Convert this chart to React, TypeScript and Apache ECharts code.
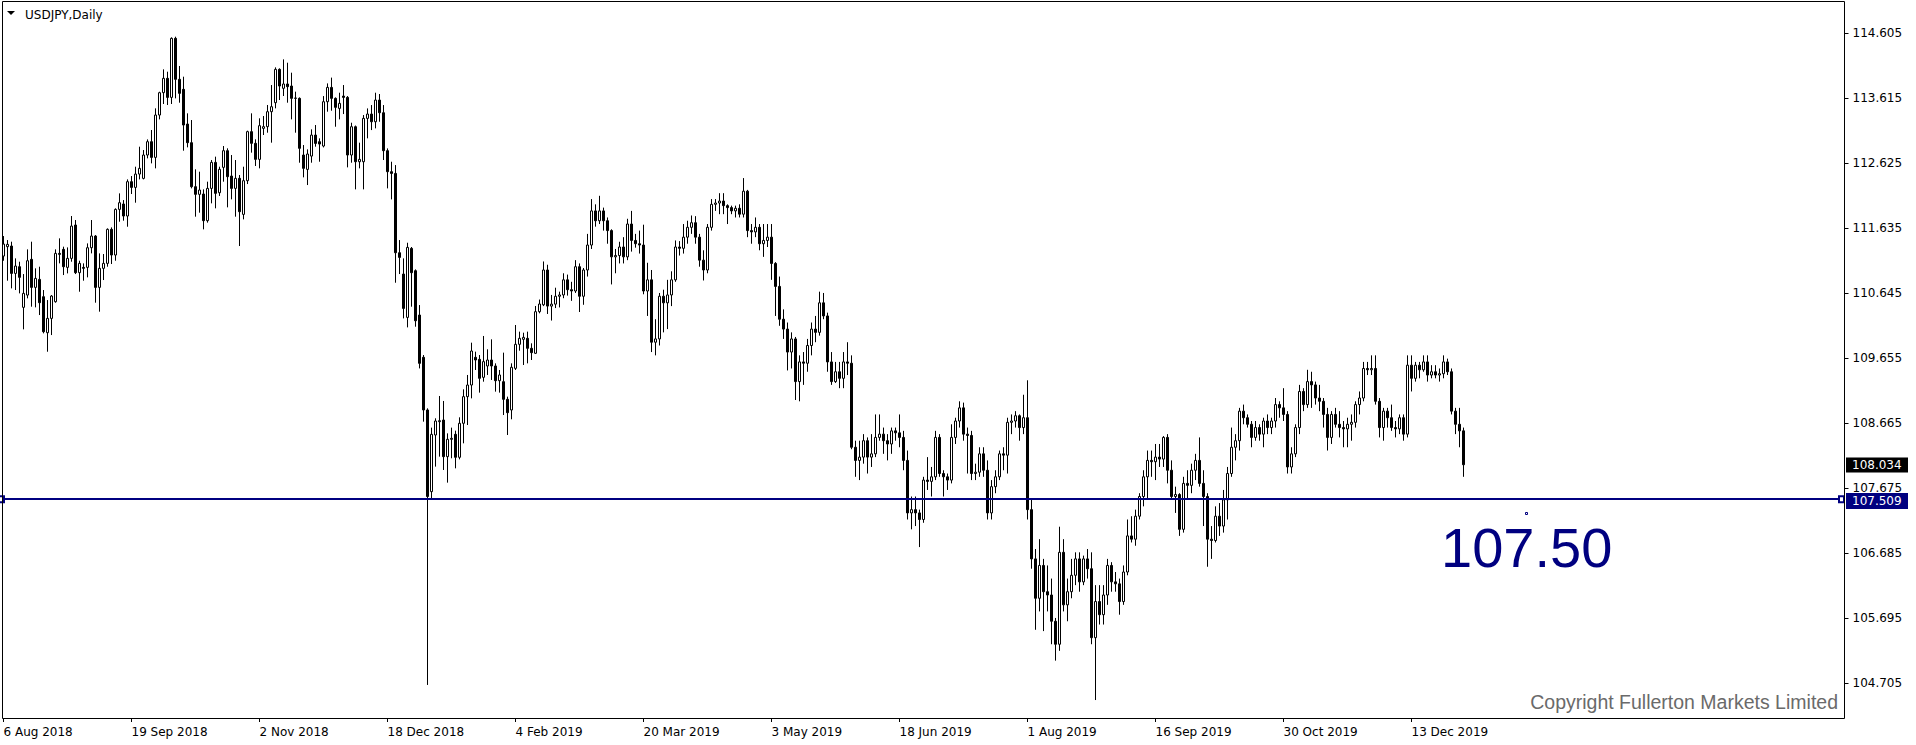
import React, { useEffect, useRef } from "react";
import * as echarts from "echarts";

const tickLabels = [
  "6 Aug 2018", "19 Sep 2018", "2 Nov 2018", "18 Dec 2018", "4 Feb 2019", "20 Mar 2019",
  "3 May 2019", "18 Jun 2019", "1 Aug 2019", "16 Sep 2019", "30 Oct 2019", "13 Dec 2019",
];
const barsPerLabel = 32;
const slotCount = 460;
const priceTicks = [114.605, 113.615, 112.625, 111.635, 110.645, 109.655, 108.665, 107.675, 106.685, 105.695, 104.705];

const opens = [
  111.212, 111.355, 111.365, 110.948, 111.050, 110.431, 110.618, 111.162, 110.735, 110.857,
  110.593, 110.045, 110.263, 110.517, 111.253, 111.314, 111.040, 111.177, 111.685, 110.959,
  111.040, 111.040, 111.339, 111.517, 110.735, 111.025, 111.101, 111.619, 111.228, 111.923,
  112.005, 111.822, 112.345, 112.258, 112.461, 112.395, 112.751, 112.954, 112.715, 113.360,
  113.701, 113.919, 113.629, 114.528, 113.904, 113.751, 113.223, 112.939, 112.269, 112.152,
  112.157, 111.751, 112.243, 112.639, 112.177, 112.563, 112.817, 112.431, 112.243, 112.396,
  111.847, 112.360, 113.107, 112.929, 112.685, 113.157, 113.183, 113.411, 113.548, 114.056,
  113.767, 113.833, 113.802, 113.614, 113.614, 112.751, 112.532, 112.735, 113.055, 112.954,
  112.888, 113.563, 113.781, 113.614, 113.461, 113.649, 113.629, 112.751, 113.182, 112.649,
  112.649, 113.309, 113.375, 113.258, 113.588, 113.395, 112.817, 112.497, 112.471, 111.263,
  110.938, 110.278, 111.329, 110.989, 110.314, 109.670, 108.868, 107.624, 108.487, 108.690,
  108.715, 108.157, 108.421, 108.497, 108.147, 108.665, 109.071, 109.248, 109.670, 109.639,
  109.365, 109.538, 109.629, 109.538, 109.314, 109.299, 109.030, 108.868, 109.502, 109.868,
  109.944, 109.959, 109.807, 109.731, 110.365,
  110.47, 111.00, 110.45, 110.48, 110.60, 110.62, 110.85, 110.70, 110.68, 111.05,
  110.60, 111.00, 111.38, 111.90, 111.75, 111.90, 111.75, 111.60, 111.20, 111.22,
  111.35, 111.20, 111.70, 111.45, 111.40, 111.38, 110.68, 110.85, 109.90, 109.95,
  110.60, 110.50, 110.62, 110.85, 111.35, 111.33, 111.50, 111.65, 111.72, 111.50,
  111.15, 111.00, 111.65, 112.00, 112.02, 112.05, 111.98, 111.95, 111.90, 111.94,
  111.85, 112.20, 111.60, 111.58, 111.65, 111.40, 111.45, 111.50, 111.10, 110.75,
  110.25, 110.10, 109.75, 109.95, 109.30, 109.60, 109.58, 109.85, 110.10, 110.05,
  110.50, 110.30, 109.60, 109.30, 109.45, 109.35, 109.60, 109.58, 108.30, 108.10,
  108.15, 108.40, 108.15, 108.20, 108.45, 108.50, 108.40, 108.35, 108.55, 108.52,
  108.45, 108.10, 107.30, 107.35, 107.30, 107.20, 107.80, 107.78, 107.85, 108.45,
  107.90, 107.85, 107.80, 108.45, 108.70, 108.90, 108.50, 108.48, 107.90, 107.92,
  108.20, 107.95, 107.30, 107.70, 107.85, 108.20, 108.18, 108.68, 108.70, 108.78,
  108.60, 108.75, 107.35, 106.60, 106.00, 106.50, 106.10, 106.05, 105.65, 105.30,
  106.70, 105.90, 106.10, 106.35, 106.60, 106.25, 106.60, 106.45, 105.40, 105.95,
  105.75, 106.05, 106.50, 106.25, 106.22, 105.95, 106.40, 106.95, 106.90, 107.25,
  107.55, 107.85, 108.10, 108.08, 108.15, 108.12, 108.45, 107.95, 107.55, 107.58,
  107.05, 107.75, 107.72, 107.95, 108.10, 107.75, 107.55, 106.90, 106.88, 107.25,
  107.10, 107.50, 107.90, 108.30, 108.40, 108.85, 108.75, 108.65, 108.45, 108.60,
  108.50, 108.70, 108.60, 108.70, 108.95, 108.90, 108.80, 108.00, 108.20, 108.60,
  109.15, 108.95, 109.30, 109.25, 109.05, 109.00, 108.80, 108.45, 108.80, 108.65,
  108.60, 108.58, 108.65, 108.68, 108.95, 109.05, 109.50, 109.48, 109.50, 109.00,
  108.60, 108.85, 108.75, 108.60, 108.58, 108.75, 108.50, 109.55, 109.35, 109.55,
  109.48, 109.60, 109.40, 109.45, 109.40, 109.42, 109.60, 109.45, 108.85, 108.65,
  108.55,
];
const closes = [
  111.395, 111.390, 110.948, 111.060, 110.888, 110.644, 111.141, 110.735, 110.872, 110.502,
  110.060, 110.263, 110.603, 111.253, 111.238, 111.050, 111.177, 111.669, 110.959, 111.101,
  111.025, 111.339, 111.517, 110.735, 111.025, 111.101, 111.619, 111.228, 111.923, 112.025,
  111.822, 112.345, 112.258, 112.461, 112.548, 112.751, 112.954, 112.715, 113.360, 113.700,
  113.919, 113.629, 114.528, 113.904, 113.690, 113.208, 112.939, 112.269, 112.152, 112.218,
  111.751, 112.243, 112.639, 112.167, 112.533, 112.817, 112.421, 112.243, 112.396, 111.888,
  112.360, 113.107, 112.929, 112.685, 113.198, 113.183, 113.411, 113.487, 114.056, 113.802,
  113.833, 113.792, 113.614, 113.620, 112.853, 112.548, 112.766, 113.055, 112.928, 112.918,
  113.563, 113.781, 113.614, 113.477, 113.538, 113.629, 112.751, 113.182, 112.649, 112.685,
  113.309, 113.375, 113.258, 113.588, 113.395, 112.817, 112.497, 112.471, 111.263, 111.192,
  110.415, 111.344, 110.959, 110.227, 109.578, 108.868, 107.550, 108.497, 108.700, 108.705,
  108.157, 108.421, 108.436, 108.147, 108.665, 109.071, 109.248, 109.766, 109.629, 109.350,
  109.604, 109.629, 109.538, 109.314, 109.401, 109.030, 108.827, 109.518, 109.868, 109.959,
  109.974, 109.807, 109.741, 110.365, 110.482,
  111.00, 110.45, 110.48, 110.60, 110.62, 110.85, 110.70, 110.68, 111.05, 110.60,
  111.00, 111.38, 111.90, 111.75, 111.90, 111.75, 111.60, 111.20, 111.22, 111.35,
  111.20, 111.70, 111.45, 111.40, 111.38, 110.68, 110.85, 109.90, 109.95, 110.60,
  110.50, 110.62, 110.85, 111.35, 111.33, 111.50, 111.65, 111.72, 111.50, 111.15,
  111.00, 111.65, 112.00, 112.02, 112.05, 111.98, 111.95, 111.90, 111.94, 111.85,
  112.20, 111.60, 111.58, 111.65, 111.40, 111.45, 111.50, 111.10, 110.75, 110.25,
  110.10, 109.75, 109.95, 109.30, 109.60, 109.58, 109.85, 110.10, 110.05, 110.50,
  110.30, 109.60, 109.30, 109.45, 109.35, 109.60, 109.58, 108.30, 108.10, 108.15,
  108.40, 108.15, 108.20, 108.45, 108.50, 108.40, 108.35, 108.55, 108.52, 108.45,
  108.10, 107.30, 107.35, 107.30, 107.20, 107.80, 107.78, 107.85, 108.45, 107.90,
  107.85, 107.80, 108.45, 108.70, 108.90, 108.50, 108.48, 107.90, 107.92, 108.20,
  107.95, 107.30, 107.70, 107.85, 108.20, 108.18, 108.68, 108.70, 108.78, 108.60,
  108.75, 107.35, 106.60, 106.00, 106.50, 106.10, 106.05, 105.65, 105.30, 106.70,
  105.90, 106.10, 106.35, 106.60, 106.25, 106.60, 106.45, 105.40, 105.95, 105.75,
  106.05, 106.50, 106.25, 106.22, 105.95, 106.40, 106.95, 106.90, 107.25, 107.55,
  107.85, 108.10, 108.08, 108.15, 108.12, 108.45, 107.95, 107.55, 107.58, 107.05,
  107.75, 107.72, 107.95, 108.10, 107.75, 107.55, 106.90, 106.88, 107.25, 107.10,
  107.50, 107.90, 108.30, 108.40, 108.85, 108.75, 108.65, 108.45, 108.60, 108.50,
  108.70, 108.60, 108.70, 108.95, 108.90, 108.80, 108.00, 108.20, 108.60, 109.15,
  108.95, 109.30, 109.25, 109.05, 109.00, 108.80, 108.45, 108.80, 108.65, 108.60,
  108.58, 108.65, 108.68, 108.95, 109.05, 109.50, 109.48, 109.50, 109.00, 108.60,
  108.85, 108.75, 108.60, 108.58, 108.75, 108.50, 109.55, 109.35, 109.55, 109.48,
  109.60, 109.40, 109.45, 109.40, 109.42, 109.60, 109.45, 108.85, 108.65, 108.55,
  108.034,
];
const lows = [
  111.141, 110.837, 110.720, 110.695, 110.644, 110.096, 110.568, 110.441, 110.431, 110.314,
  110.035, 109.755, 110.009, 110.502, 111.101, 110.923, 110.948, 111.126, 110.938, 110.669,
  110.837, 110.888, 111.253, 110.502, 110.365, 110.847, 111.050, 111.091, 111.141, 111.735,
  111.751, 111.659, 112.157, 112.025, 112.380, 112.380, 112.700, 112.624, 112.548, 113.294,
  113.528, 113.513, 113.528, 113.614, 113.548, 112.817, 112.868, 112.243, 111.812, 111.873,
  111.619, 111.721, 112.015, 111.939, 112.127, 112.345, 111.954, 112.076, 111.812, 111.365,
  111.771, 112.309, 112.787, 112.584, 112.548, 113.056, 113.091, 112.939, 113.462, 113.589,
  113.650, 113.548, 113.294, 113.091, 112.634, 112.411, 112.294, 112.634, 112.878, 112.649,
  112.867, 113.411, 113.426, 113.182, 113.294, 113.375, 112.563, 112.634, 112.228, 112.548,
  112.228, 113.005, 113.131, 113.157, 113.258, 112.675, 112.243, 112.075, 110.806, 110.938,
  110.263, 110.126, 110.441, 110.136, 109.501, 108.690, 104.680, 107.507, 108.005, 108.157,
  107.954, 107.761, 108.132, 107.979, 108.116, 108.360, 108.639, 109.045, 109.477, 109.132,
  109.299, 109.401, 109.325, 109.147, 109.132, 108.791, 108.487, 108.726, 109.477, 109.771,
  109.553, 109.578, 109.629, 109.721, 110.340,
  110.45, 110.33, 110.23, 110.42, 110.43, 110.57, 110.61, 110.53, 110.65, 110.36,
  110.47, 110.90, 111.32, 111.66, 111.70, 111.60, 111.40, 110.78, 110.95, 111.10,
  111.10, 111.15, 111.28, 111.34, 111.25, 110.63, 110.30, 109.75, 109.70, 109.85,
  110.05, 110.10, 110.45, 110.82, 111.22, 111.25, 111.40, 111.55, 111.40, 111.05,
  110.84, 110.95, 111.60, 111.90, 111.85, 111.85, 111.70, 111.85, 111.80, 111.80,
  111.80, 111.50, 111.40, 111.50, 111.30, 111.20, 111.35, 110.85, 110.30, 110.15,
  109.95, 109.47, 109.50, 109.02, 109.00, 109.25, 109.45, 109.70, 109.90, 110.00,
  110.25, 109.45, 109.25, 109.28, 109.20, 109.20, 109.40, 108.27, 107.85, 107.80,
  108.05, 107.90, 108.00, 108.15, 108.40, 108.20, 108.10, 108.20, 108.40, 108.30,
  107.95, 107.20, 107.05, 107.10, 106.78, 107.15, 107.65, 107.55, 107.80, 107.85,
  107.55, 107.65, 107.75, 108.35, 108.60, 108.40, 107.90, 107.80, 107.80, 107.85,
  107.85, 107.20, 107.20, 107.60, 107.80, 107.95, 107.90, 108.50, 108.60, 108.40,
  108.50, 107.20, 106.45, 105.52, 105.80, 105.50, 105.80, 105.30, 105.05, 105.20,
  105.80, 105.65, 106.00, 106.20, 106.10, 106.20, 106.30, 105.30, 104.45, 105.60,
  105.60, 105.90, 106.10, 106.10, 105.75, 105.90, 106.35, 106.85, 106.80, 107.20,
  107.40, 107.50, 107.85, 107.80, 108.00, 108.00, 107.75, 107.50, 107.30, 106.95,
  107.00, 107.50, 107.60, 107.80, 107.70, 107.10, 106.48, 106.60, 106.85, 106.95,
  107.00, 107.20, 107.85, 108.10, 108.25, 108.65, 108.60, 108.30, 108.40, 108.40,
  108.30, 108.50, 108.50, 108.60, 108.75, 108.70, 107.90, 107.90, 108.15, 108.50,
  108.85, 108.90, 108.90, 108.95, 108.85, 108.60, 108.25, 108.35, 108.60, 108.45,
  108.30, 108.30, 108.40, 108.60, 108.80, 109.00, 109.40, 109.40, 108.95, 108.45,
  108.40, 108.60, 108.55, 108.45, 108.50, 108.40, 108.45, 109.15, 109.30, 109.35,
  109.45, 109.30, 109.35, 109.35, 109.30, 109.35, 109.40, 108.80, 108.50, 108.30,
  107.85,
];
const highs = [
  111.517, 111.456, 111.431, 111.177, 111.126, 110.938, 111.314, 111.431, 111.025, 111.050,
  110.695, 110.542, 110.618, 111.314, 111.482, 111.355, 111.344, 111.822, 111.761, 111.141,
  111.101, 111.405, 111.761, 111.532, 111.253, 111.243, 111.634, 111.649, 111.939, 112.167,
  112.065, 112.380, 112.431, 112.573, 112.878, 112.827, 112.989, 113.132, 113.462, 113.715,
  114.056, 114.020, 114.543, 114.553, 114.107, 113.944, 113.386, 113.284, 112.533, 112.497,
  112.228, 112.345, 112.675, 112.726, 112.573, 112.888, 112.853, 112.751, 112.675, 112.447,
  112.573, 113.122, 113.386, 112.990, 113.310, 113.345, 113.513, 113.817, 114.086, 114.071,
  114.208, 114.157, 114.005, 113.716, 113.629, 112.903, 112.837, 113.142, 113.208, 113.005,
  113.649, 113.842, 113.930, 113.629, 113.700, 113.817, 113.649, 113.243, 113.200, 112.939,
  113.360, 113.461, 113.512, 113.700, 113.680, 113.512, 112.852, 112.649, 112.598, 111.456,
  111.177, 111.415, 111.350, 111.009, 110.466, 109.705, 108.893, 108.599, 108.741, 109.081,
  109.005, 108.512, 108.599, 108.553, 108.756, 109.182, 109.401, 109.893, 109.756, 109.705,
  109.995, 109.792, 109.944, 109.578, 109.477, 109.741, 109.071, 109.578, 110.162, 110.061,
  110.045, 110.061, 109.883, 110.452, 110.550,
  111.13, 111.08, 110.62, 110.73, 110.67, 110.95, 110.93, 110.82, 111.15, 111.10,
  111.03, 111.55, 112.08, 112.00, 112.13, 111.95, 111.80, 111.62, 111.32, 111.43,
  111.50, 111.78, 111.90, 111.55, 111.60, 111.69, 111.11, 111.00, 110.25, 110.65,
  110.70, 110.85, 110.98, 111.45, 111.44, 111.70, 111.75, 111.83, 111.82, 111.55,
  111.30, 111.70, 112.08, 112.08, 112.17, 112.17, 112.00, 111.98, 111.98, 112.00,
  112.40, 112.22, 111.70, 111.80, 111.70, 111.70, 111.70, 111.70, 111.12, 110.90,
  110.40, 110.20, 110.05, 109.98, 109.70, 109.75, 109.95, 110.20, 110.30, 110.67,
  110.65, 110.35, 109.75, 109.60, 109.60, 109.75, 109.90, 109.70, 108.40, 108.40,
  108.50, 108.45, 108.50, 108.80, 108.80, 108.60, 108.50, 108.60, 108.60, 108.80,
  108.55, 108.25, 107.55, 107.55, 107.35, 107.85, 108.15, 108.00, 108.55, 108.50,
  107.95, 107.90, 108.65, 108.75, 109.00, 108.98, 108.60, 108.55, 108.05, 108.30,
  108.30, 108.10, 107.80, 107.95, 108.25, 108.30, 108.75, 108.80, 108.85, 108.80,
  109.10, 109.32, 107.50, 106.75, 106.90, 106.60, 106.50, 106.30, 105.70, 107.09,
  106.90, 106.30, 106.60, 106.70, 106.70, 106.65, 106.75, 106.70, 106.20, 106.20,
  106.20, 106.60, 106.55, 106.40, 106.30, 106.50, 107.20, 107.25, 107.35, 107.60,
  107.95, 108.25, 108.25, 108.35, 108.35, 108.47, 108.50, 108.10, 107.70, 107.60,
  107.85, 107.95, 108.05, 108.20, 108.45, 107.95, 107.60, 107.10, 107.40, 107.45,
  107.65, 108.00, 108.60, 108.50, 108.90, 108.95, 108.80, 108.70, 108.70, 108.65,
  108.75, 108.80, 108.75, 109.05, 109.00, 109.20, 108.85, 108.30, 108.65, 109.25,
  109.20, 109.48, 109.45, 109.30, 109.25, 109.05, 108.90, 108.85, 108.90, 108.85,
  108.70, 108.75, 108.80, 109.00, 109.15, 109.60, 109.60, 109.70, 109.70, 109.05,
  108.90, 108.90, 108.95, 108.70, 108.80, 108.80, 109.70, 109.70, 109.60, 109.60,
  109.70, 109.70, 109.55, 109.55, 109.50, 109.70, 109.65, 109.50, 108.90, 108.90,
  108.60,
];

const lastPrice = 108.034;
const levelPrice = 107.509;
const levelText = "107.50";
const symbolTitle = "USDJPY,Daily";
const copyrightText = "Copyright Fullerton Markets Limited";

const FONT = "'DejaVu Sans', Verdana, sans-serif";
const NAVY = "#000080";

export default function App() {
  const ref = useRef<HTMLDivElement>(null);
  useEffect(() => {
    document.body.style.margin = "0";
    const el = ref.current as HTMLDivElement;
    const chart = echarts.init(el, null, { renderer: "svg" });
    const categories = Array.from({ length: slotCount }, (_, i) => String(i));
    const candles = opens.map((o, i) => [o, closes[i], lows[i], highs[i]]);
    const showTick = (i: number) => i % barsPerLabel === 0 && i / barsPerLabel < tickLabels.length;

    chart.setOption({
      animation: false,
      backgroundColor: "#ffffff",
      grid: { left: 1.5, right: 74.5, top: 2, bottom: 27, containLabel: false, outerBoundsMode: "none" },
      xAxis: {
        type: "category",
        data: categories,
        boundaryGap: true,
        axisLine: { show: false },
        axisTick: {
          show: true,
          alignWithLabel: true,
          interval: (i: number) => showTick(i),
          length: 4,
          lineStyle: { color: "#000", width: 1 },
        },
        axisLabel: {
          show: true,
          interval: (i: number) => showTick(i),
          formatter: (_v: string, i: number) => tickLabels[i / barsPerLabel] ?? "",
          align: "left",
          margin: 8,
          fontFamily: FONT,
          fontSize: 12,
          color: "#000",
        },
        splitLine: { show: false },
      },
      yAxis: {
        type: "value",
        position: "right",
        min: 104.1765,
        max: 115.0817,
        offset: 3,
        scale: true,
        axisLine: { show: false },
        axisTick: { show: true, length: 4, customValues: priceTicks, lineStyle: { color: "#000", width: 1 } },
        axisLabel: {
          show: true,
          customValues: priceTicks,
          formatter: (v: number) => v.toFixed(3),
          margin: 8,
          fontFamily: FONT,
          fontSize: 12,
          color: "#000",
        },
        splitLine: { show: false },
      },
      series: [
        {
          type: "candlestick",
          data: candles,
          barWidth: 2,
          itemStyle: {
            color: "#ffffff",
            color0: "#000000",
            borderColor: "#000000",
            borderColor0: "#000000",
            borderColorDoji: "#000000",
            borderWidth: 1,
          },
          emphasis: { disabled: true },
          markLine: {
            silent: true,
            symbol: ["emptyRect", "emptyRect"],
            symbolSize: [6, 5],
            label: { show: false },
            lineStyle: { color: NAVY, width: 2, type: "solid" },
            emphasis: { disabled: true },
            data: [{ yAxis: levelPrice }],
          },
        },
      ],
    });

    const yLast = chart.convertToPixel({ yAxisIndex: 0 }, lastPrice) as number;
    const yLevel = chart.convertToPixel({ yAxisIndex: 0 }, levelPrice) as number;

    const txt = (text: string, x: number, y: number, size: number, fill: string, family: string, align = "left") => ({
      type: "text",
      z: 100,
      style: {
        text, x, y, fill,
        fontSize: size, fontFamily: family,
        align, verticalAlign: "middle",
        textAlign: align, textVerticalAlign: "middle",
      },
    });

    chart.setOption({
      graphic: [
        {
          type: "rect", z: 100,
          shape: { x: 2.5, y: 1.5, width: 1842, height: 717 },
          style: { fill: "none", stroke: "#000", lineWidth: 1 },
        },
        {
          type: "polygon", z: 100,
          shape: { points: [[7, 11], [15, 11], [11, 15]] },
          style: { fill: "#000" },
        },
        txt(symbolTitle, 25, 15, 12, "#000", FONT),
        {
          type: "rect", z: 100,
          shape: { x: 1846, y: Math.round(yLast) - 7.5, width: 62, height: 15 },
          style: { fill: "#000" },
        },
        txt(lastPrice.toFixed(3), 1852, Math.round(yLast), 12, "#fff", FONT),
        {
          type: "rect", z: 100,
          shape: { x: 1846, y: Math.round(yLevel) - 6, width: 62, height: 16 },
          style: { fill: NAVY },
        },
        txt(levelPrice.toFixed(3), 1852, Math.round(yLevel) + 2, 12, "#fff", FONT),
        {
          type: "rect", z: 100,
          shape: { x: 1525.5, y: 512.5, width: 2, height: 2 },
          style: { fill: "#fff", stroke: NAVY, lineWidth: 1 },
        },
        txt(levelText, 1441, 547, 56, NAVY, "'Liberation Sans', Arial, sans-serif"),
        txt(copyrightText, 1838, 701.5, 19.5, "#6a6a6a", "'Liberation Sans', Arial, sans-serif", "right"),
      ],
    });

    return () => chart.dispose();
  }, []);
  return <div ref={ref} style={{ width: 1916, height: 745, overflow: "hidden" }} />;
}
